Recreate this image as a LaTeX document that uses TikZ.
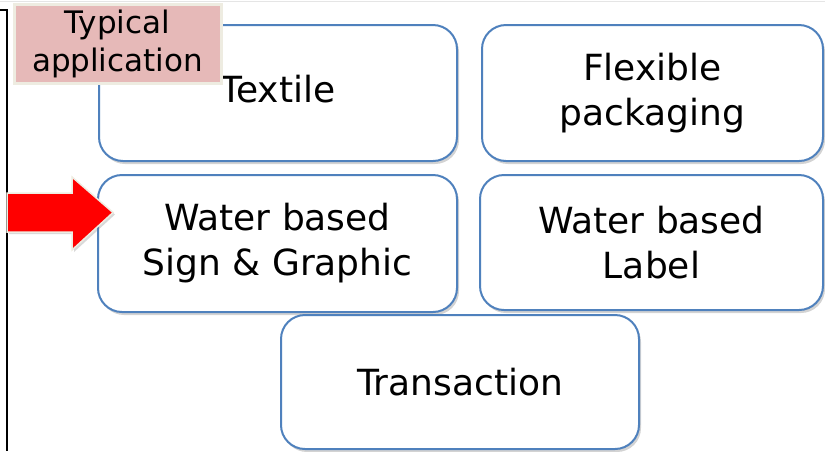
\documentclass[tikz,border=0pt]{standalone}
\usepackage{fontspec}
\setmainfont{DejaVu Sans}
\usetikzlibrary{shadows}

\definecolor{boxblue}{RGB}{79,129,189}
\definecolor{tagpink}{RGB}{230,185,184}
\definecolor{tagrim}{RGB}{238,236,225}

\tikzset{
  appbox/.style={draw=boxblue, line width=2pt, rounded corners=24pt, fill=white,
    drop shadow={opacity=0.35, shadow xshift=2pt, shadow yshift=-3pt},
    align=center, inner sep=0pt, font=\fontsize{36}{45}\selectfont},
  tagbox/.style={draw=tagrim, line width=3pt, fill=tagpink,
    drop shadow={opacity=0.25, shadow xshift=2pt, shadow yshift=-2pt},
    align=center, inner sep=0pt, font=\fontsize{31}{38}\selectfont},
  pointer/.style={draw=tagrim, line width=1.5pt, fill=red,
    drop shadow={opacity=0.3, shadow xshift=2pt, shadow yshift=-2pt}}
}

\begin{document}
\begin{tikzpicture}[x=1pt, y=-1pt]
    \useasboundingbox (0,0) rectangle (825,451);
    \draw[gray!20, line width=1pt] (0,1) -- (825,1);
    \draw[line width=1.5pt] (0,10) -- (7,10) -- (7,451);
    % application boxes
    \node[appbox, minimum width=358pt, minimum height=136pt] (textile) at (278,93) {Textile\rule[-8pt]{0pt}{0pt}};
    \node[appbox, minimum width=341pt, minimum height=136pt] (flexible) at (652.5,93) {Flexible\\packaging};
    \node[appbox, minimum width=359pt, minimum height=137pt] (sign) at (277.5,243.5) {Water based\\Sign \& Graphic};
    \node[appbox, minimum width=343pt, minimum height=135pt] (label) at (651.5,242.5) {Water based\\Label};
    \node[appbox, minimum width=358pt, minimum height=134pt] (transaction) at (460,382) {Transaction};
    % tag and pointer
    \node[tagbox, minimum width=207pt, minimum height=79pt] (tag) at (117.5,43.5) {Typical\\application};
    \draw[pointer] (7,193) -- (72,193) -- (72,177) -- (113,212.5) -- (72,250) -- (72,232) -- (7,232) -- cycle;
\end{tikzpicture}
\end{document}
